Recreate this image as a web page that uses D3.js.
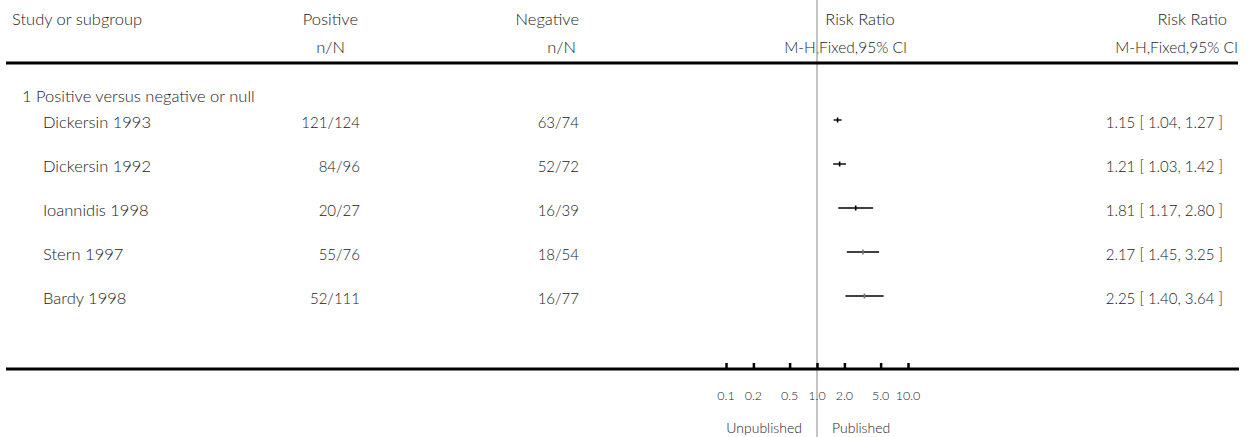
<!DOCTYPE html>
<html><head><meta charset="utf-8">
<script src="https://cdn.jsdelivr.net/npm/d3@7/dist/d3.min.js"></script>
<style>html,body{margin:0;padding:0;background:#fff;}svg{display:block;}</style>
</head><body>
<script>
const groupTitle = "1 Positive versus negative or null";
const studies = ["Dickersin 1993","Dickersin 1992","Ioannidis 1998","Stern 1997","Bardy 1998"];
const positive = ["121/124","84/96","20/27","55/76","52/111"];
const negative = ["63/74","52/72","16/39","18/54","16/77"];
const rr = [1.15,1.21,1.81,2.17,2.25];
const lo = [1.04,1.03,1.17,1.45,1.40];
const hi = [1.27,1.42,2.80,3.25,3.64];
const tickValues = [0.1,0.2,0.5,1,2,5,10];
const tickLabels = ["0.1","0.2","0.5","1.0","2.0","5.0","10.0"];
const leftLabel = "Unpublished", rightLabel = "Published";

const W=1250,H=437;
const svg=d3.select("body").append("svg").attr("width",W).attr("height",H)
  .style("font-family","Lato, 'Open Sans', sans-serif").style("font-weight",300);

const xAxis = d3.scaleLog().domain([0.1,10]).range([726,908]);
const xData = d3.scaleLog().domain([0.1,10]).range([740,924]);
const y = d3.scaleBand().domain(studies).range([98,318]);

const fsW=16.5, fsN=15;
function txt(x,yy,s,anchor,size){
  return svg.append("text").attr("x",x).attr("y",yy).attr("text-anchor",anchor||"start")
   .attr("dominant-baseline","central").style("font-size",(size||fsW)+"px").style("fill","#222").text(s);
}
// header
txt(12,19,"Study or subgroup");
txt(358,19,"Positive","end"); txt(345,47,"n/N","end");
txt(579,19,"Negative","end"); txt(576,47,"n/N","end");
txt(860,19,"Risk Ratio","middle"); txt(907,47,"M-H,Fixed,95% CI","end",15.5);
txt(1227,19,"Risk Ratio","end"); txt(1238,47,"M-H,Fixed,95% CI","end",15.5);

// vertical line at 1
svg.append("line").attr("x1",xAxis(1)).attr("x2",xAxis(1)).attr("y1",0).attr("y2",H)
  .attr("stroke","#aaa").attr("stroke-width",1.4);

// header rule
svg.append("line").attr("x1",6).attr("x2",1238).attr("y1",63).attr("y2",63).attr("stroke","#000").attr("stroke-width",3);

txt(22,96,groupTitle);

const cy = d => y(d)+y.bandwidth()/2;
studies.forEach((s,i)=>{
  const yy=cy(s);
  txt(43,yy+2,s);
  txt(360,yy+2,positive[i],"end",fsN);
  txt(579,yy+2,negative[i],"end",fsN);
  txt(1223,yy+2,rr[i].toFixed(2)+" [ "+lo[i].toFixed(2)+", "+hi[i].toFixed(2)+" ]","end",fsN);
  svg.append("line").attr("x1",xData(lo[i])).attr("x2",xData(hi[i])).attr("y1",yy).attr("y2",yy)
    .attr("stroke","#000").attr("stroke-width",1.4);
  svg.append("rect").attr("x",xData(rr[i])-0.8).attr("y",yy-2.5).attr("width",1.6).attr("height",5)
    .attr("fill", i<3?"#000":"#777");
});

// axis
const axisY=369;
svg.append("line").attr("x1",6).attr("x2",1239).attr("y1",axisY).attr("y2",axisY).attr("stroke","#000").attr("stroke-width",3);
const ag=svg.append("g").attr("transform",`translate(0,${axisY})`)
  .call(d3.axisTop(xAxis).tickValues(tickValues).tickFormat("").tickSize(6).tickSizeOuter(0));
ag.select(".domain").remove();
ag.selectAll(".tick line").attr("stroke","#000").attr("stroke-width",2.5);
tickValues.forEach((v,i)=>txt(xAxis(v),395,tickLabels[i],"middle",12.5));
txt(802,427,leftLabel,"end",14);
txt(832,427,rightLabel,"start",14);
</script>
</body></html>
